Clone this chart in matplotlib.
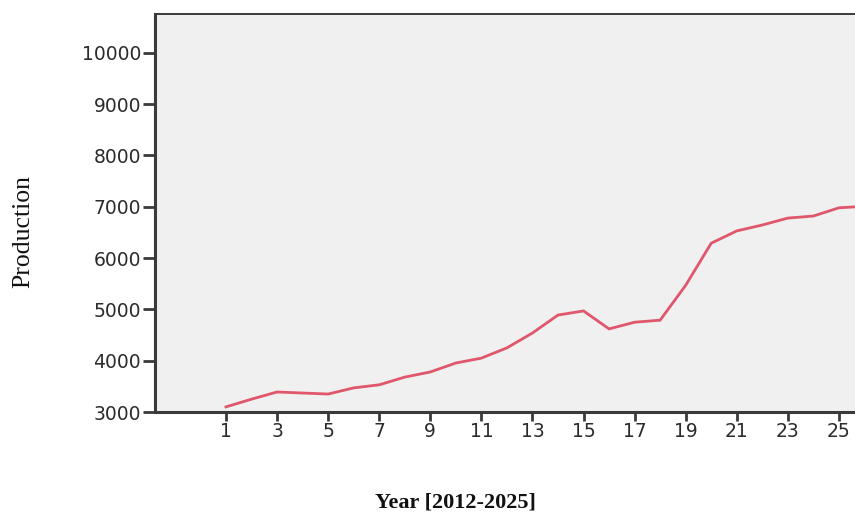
import matplotlib
matplotlib.use("Agg")
import matplotlib.pyplot as plt

# 年度序号与产量
years = list(range(1, 27))
production = [3100, 3250, 3390, 3370, 3350, 3470, 3530, 3680, 3780, 3955,
              4050, 4250, 4540, 4890, 4970, 4620, 4750, 4790, 5470, 6290,
              6530, 6645, 6780, 6820, 6980, 7010]
xticks = list(range(1, 26, 2))
yticks = list(range(3000, 10001, 1000))

LINE_COLOR = "#e0566a"
AXIS_COLOR = "#3a3a3a"

fig = plt.figure(figsize=(8.55, 5.15), dpi=100)
ax = fig.add_axes([155 / 855, 0.2, 1 - 155 / 855, 0.7728])
ax.set_facecolor("#f0f0f0")

ax.plot(years, production, color=LINE_COLOR, lw=2.0, solid_joinstyle="miter")

ax.set_xlim(-1.78, 25.63)
ax.set_ylim(3000, 10758)
ax.set_xticks(xticks)
ax.set_yticks(yticks)

for side in ("left", "bottom"):
    ax.spines[side].set_color(AXIS_COLOR)
    ax.spines[side].set_linewidth(2.2)
ax.spines["top"].set_color(AXIS_COLOR)
ax.spines["top"].set_linewidth(1.4)
ax.spines["right"].set_visible(False)

ax.tick_params(axis="y", direction="out", length=9, width=2, color=AXIS_COLOR,
               labelsize=13.5, labelcolor="#2b2b2b", pad=1)
ax.tick_params(axis="x", direction="out", length=6.5, width=2, color=AXIS_COLOR,
               labelsize=13.5, labelcolor="#2b2b2b", pad=1)
for lab in ax.get_xticklabels() + ax.get_yticklabels():
    lab.set_family("DejaVu Sans")

fig.text(455 / 855, 1 - 502 / 515, "Year [2012-2025]", ha="center", va="center",
         fontsize=16, fontweight="bold", family="Liberation Serif", color="#111111")
fig.text(23 / 855, 1 - 231 / 515, "Production", ha="center", va="center",
         rotation=90, fontsize=18.5, family="Liberation Serif", color="#111111")

fig.savefig("out.png", dpi=100, facecolor="white")
plt.close(fig)
